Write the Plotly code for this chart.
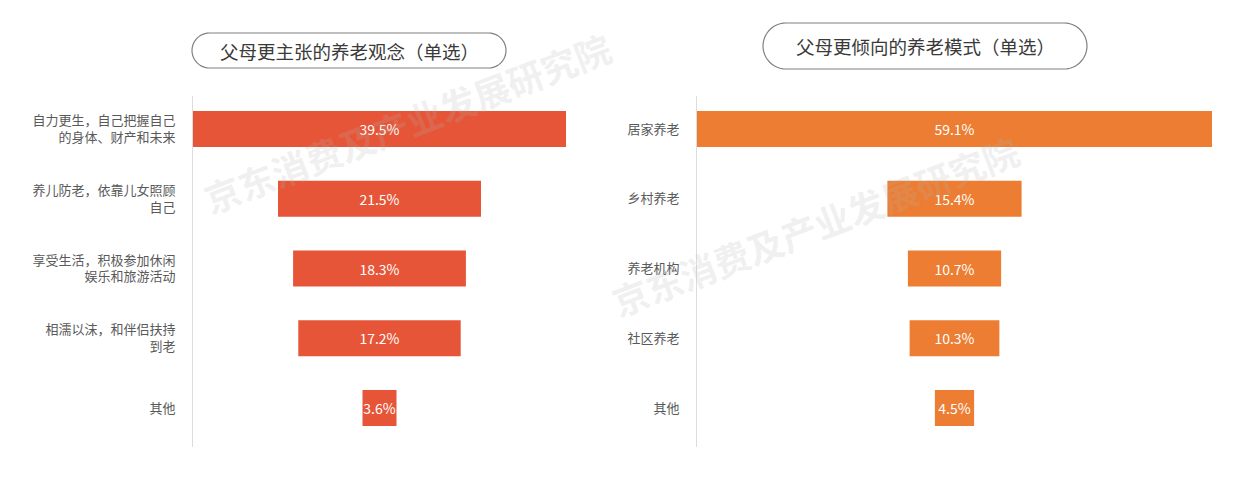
import math
import plotly.graph_objects as go

W, H = 1233, 480

left_title = "父母更主张的养老观念（单选）"
left_cats = ["自力更生，自己把握自己<br>的身体、财产和未来",
             "养儿防老，依靠儿女照顾<br>自己",
             "享受生活，积极参加休闲<br>娱乐和旅游活动",
             "相濡以沫，和伴侣扶持<br>到老",
             "其他"]
left_vals = [39.5, 21.5, 18.3, 17.2, 3.6]

right_title = "父母更倾向的养老模式（单选）"
right_cats = ["居家养老", "乡村养老", "养老机构", "社区养老", "其他"]
right_vals = [59.1, 15.4, 10.7, 10.3, 4.5]

watermark = "京东消费及产业发展研究院"

FONT = "Noto Sans CJK SC"
LEFT_COLOR = "#E65537"
RIGHT_COLOR = "#EC7D32"

fig = go.Figure()
for cats, vals, xa, ya, col in [(left_cats, left_vals, "x", "y", LEFT_COLOR),
                                (right_cats, right_vals, "x2", "y2", RIGHT_COLOR)]:
    fig.add_trace(go.Funnel(
        y=cats, x=vals, xaxis=xa, yaxis=ya,
        marker=dict(color=col),
        texttemplate="%{x}%", textposition="inside", constraintext="none",
        insidetextfont=dict(color="white", size=14, family=FONT),
        connector=dict(visible=False), hoverinfo="skip"))

ydom = [1 - 447 / H, 1 - 96 / H]
lmax = max(left_vals) / 2
rmax = max(right_vals) / 2

axis_common = dict(showgrid=False, zeroline=False, showticklabels=False, fixedrange=True)
yaxis_common = dict(showgrid=False, zeroline=False, showline=True, linecolor="#dcdcdc",
                    linewidth=1, ticks="", ticklabelstandoff=14,
                    tickfont=dict(size=13, color="#595959", family=FONT),
                    range=[4.559, -0.473], fixedrange=True)

fig.update_layout(
    width=W, height=H,
    margin=dict(l=0, r=0, t=0, b=0),
    paper_bgcolor="white", plot_bgcolor="white",
    showlegend=False,
    funnelgap=0.484,
    font=dict(family=FONT),
    xaxis=dict(domain=[193 / W, 566 / W], range=[-lmax, lmax], anchor="y", **axis_common),
    yaxis=dict(domain=ydom, anchor="x", **yaxis_common),
    xaxis2=dict(domain=[697 / W, 1212 / W], range=[-rmax, rmax], anchor="y2", **axis_common),
    yaxis2=dict(domain=ydom, anchor="x2", **yaxis_common),
)


def title_box(x0, x1, y0, y1, text):
    r = (y1 - y0) / 2
    cy = (y0 + y1) / 2
    pts = []
    for k in range(0, 25):
        a = -math.pi / 2 + math.pi * k / 24
        pts.append((x1 - r + r * math.cos(a), cy + r * math.sin(a)))
    for k in range(0, 25):
        a = math.pi / 2 + math.pi * k / 24
        pts.append((x0 + r + r * math.cos(a), cy + r * math.sin(a)))
    path = "M " + " L ".join(f"{px / W:.6f},{1 - py / H:.6f}" for px, py in pts) + " Z"
    fig.add_shape(type="path", xref="paper", yref="paper", path=path,
                  line=dict(color="#808080", width=1.2), fillcolor="rgba(0,0,0,0)")
    fig.add_annotation(x=(x0 + x1) / 2 / W, y=1 - cy / H, xref="paper", yref="paper",
                       xanchor="center", yanchor="middle",
                       text=text, showarrow=False,
                       font=dict(size=18.5, color="#3a3a3a", family=FONT))


title_box(192, 506, 33, 68, left_title)
title_box(763, 1087, 23, 69, right_title)

# watermarks
for cx, cy in [(407, 122), (815, 225)]:
    fig.add_annotation(x=cx / W, y=1 - cy / H, xref="paper", yref="paper",
                       xanchor="center", yanchor="middle",
                       text=f"<b>{watermark}</b>", showarrow=False, textangle=-21,
                       font=dict(size=36, color="rgba(180,180,180,0.2)", family=FONT))

fig.write_html("out.html")
